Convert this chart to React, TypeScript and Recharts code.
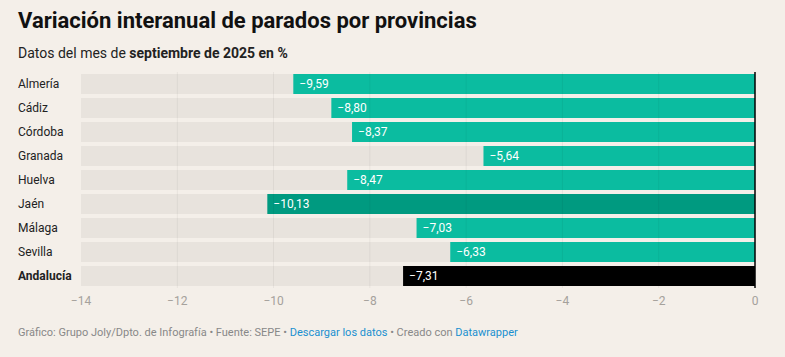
import { BarChart, Bar, XAxis, YAxis, CartesianGrid, Cell, LabelList, ReferenceLine } from "recharts";

const provincias = ["Almería", "Cádiz", "Córdoba", "Granada", "Huelva", "Jaén", "Málaga", "Sevilla", "Andalucía"];
const variacion = [-9.59, -8.8, -8.37, -5.64, -8.47, -10.13, -7.03, -6.33, -7.31];
const xTicks = [-14, -12, -10, -8, -6, -4, -2, 0];

const data = provincias.map((name, i) => ({ name, value: variacion[i] }));

const barColor = (name: string) => {
  if (name === "Andalucía") return "#000000";
  if (name === "Jaén") return "#009a80";
  return "#0bbca0";
};

const fmt = (v: number) => "\u2212" + Math.abs(v).toFixed(2).replace(".", ",");

const font = "Roboto, 'Noto Sans', sans-serif";

const CategoryTick = (props: any) => {
  const { y, payload } = props;
  const bold = payload.value === "Andalucía";
  return (
    <text x={18} y={y} dy={4} textAnchor="start" fontSize={12} fill="#222" fontWeight={bold ? 700 : 400} fontFamily={font}>
      {payload.value}
    </text>
  );
};

const ValueLabel = (props: any) => {
  const { x, y, width, height, value } = props;
  const left = x + Math.min(0, width);
  return (
    <text x={left + 6} y={y + height / 2} dy={4} fontSize={12} fill="#fff" fontFamily={font}>
      {fmt(value)}
    </text>
  );
};

export default function App() {
  return (
    <div style={{ position: "absolute", top: 0, left: 0, width: 785, height: 357, background: "#f4efe9", fontFamily: font, overflow: "hidden" }}>
      <div style={{ position: "absolute", left: 18, top: 8, fontSize: 22, fontWeight: 700, color: "#111" }}>
        Variación interanual de parados por provincias
      </div>
      <div style={{ position: "absolute", left: 18, top: 45, fontSize: 14, color: "#222" }}>
        Datos del mes de <b>septiembre de 2025 en %</b>
      </div>
      <div style={{ position: "absolute", top: 0, left: 0 }}>
        <BarChart
          width={785}
          height={320}
          data={data}
          layout="vertical"
          margin={{ top: 72, right: 30, left: 0, bottom: 2 }}
          barSize={20}
        >
          <Bar dataKey="value" background={{ fill: "#e8e3dd" }} isAnimationActive={false}>
            {data.map((d) => (
              <Cell key={d.name} fill={barColor(d.name)} />
            ))}
            <LabelList dataKey="value" content={<ValueLabel />} />
          </Bar>
          <XAxis
            type="number"
            domain={[-14, 0]}
            ticks={xTicks}
            axisLine={false}
            tickLine={false}
            tick={{ fill: "#a5a19c", fontSize: 12, fontFamily: font }}
            tickFormatter={(v: number) => (v === 0 ? "0" : "\u2212" + Math.abs(v))}
            height={30}
          />
          <YAxis type="category" dataKey="name" width={81} axisLine={false} tickLine={false} tick={<CategoryTick />} />
          {xTicks.slice(1, -1).map((t) => (
            <ReferenceLine key={t} x={t} stroke="#000" strokeOpacity={0.05} />
          ))}
          <ReferenceLine x={0} stroke="#000" strokeWidth={1.5} />
        </BarChart>
      </div>
      <div style={{ position: "absolute", left: 18, top: 326, fontSize: 11, color: "#888" }}>
        Gráfico: Grupo Joly/Dpto. de Infografía • Fuente: SEPE • <span style={{ color: "#1a8fd0" }}>Descargar los datos</span> • Creado con <span style={{ color: "#1a8fd0" }}>Datawrapper</span>
      </div>
    </div>
  );
}
